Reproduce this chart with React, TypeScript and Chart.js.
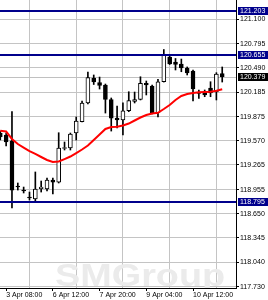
import React, { useEffect, useRef } from 'react';
import { Chart, registerables } from 'chart.js';

Chart.register(...registerables);

// H4 candles, bar index 0..38
const opens = [119.668, 119.643, 119.571, 119.0, 118.949, 118.861, 118.836, 118.968, 118.962, 119.076,
  119.05, 119.473, 119.479, 119.668, 119.811, 120.047, 120.362, 120.305, 120.274, 120.091,
  119.857, 119.832, 119.949, 120.066, 120.093, 120.295, 120.261, 119.924, 120.315, 120.627,
  120.564, 120.538, 120.488, 120.45, 120.179, 120.179, 120.236, 120.185, 120.419];
const highs = [119.693, 119.668, 119.937, 119.038, 118.987, 118.924, 119.177, 119.063, 119.101, 119.101,
  119.672, 119.555, 119.668, 119.87, 120.072, 120.438, 120.4, 120.374, 120.286, 120.11,
  120.009, 120.05, 120.189, 120.185, 120.378, 120.324, 120.274, 120.346, 120.721, 120.652,
  120.608, 120.601, 120.501, 120.463, 120.211, 120.211, 120.315, 120.429, 120.501];
const lows = [119.58, 119.504, 118.723, 118.949, 118.912, 118.823, 118.811, 118.924, 118.937, 118.899,
  119.038, 119.454, 119.454, 119.58, 119.807, 120.034, 120.28, 120.223, 119.92, 119.693,
  119.731, 119.643, 119.937, 120.047, 120.085, 120.148, 119.908, 119.87, 120.311, 120.532,
  120.463, 120.441, 120.4, 120.072, 120.106, 120.126, 120.126, 120.085, 120.311];
const closes = [119.618, 119.555, 118.949, 118.987, 118.937, 118.849, 118.962, 118.987, 119.076, 119.05,
  119.479, 119.485, 119.656, 119.82, 120.047, 120.368, 120.311, 120.267, 120.093, 119.857,
  119.832, 119.949, 120.076, 120.091, 120.295, 120.274, 119.917, 120.315, 120.652, 120.538,
  120.532, 120.488, 120.425, 120.223, 120.166, 120.148, 120.173, 120.412, 120.379];
const maValues = [119.697, 119.687, 119.593, 119.53, 119.485, 119.441, 119.404, 119.366, 119.328, 119.303,
  119.309, 119.34, 119.372, 119.416, 119.46, 119.511, 119.58, 119.649, 119.719, 119.744,
  119.748, 119.763, 119.788, 119.826, 119.864, 119.895, 119.914, 119.924, 119.971, 120.021,
  120.085, 120.135, 120.16, 120.173, 120.182, 120.185, 120.189, 120.202, 120.219];

const yTickValues = [117.73, 118.04, 118.345, 118.65, 118.955, 119.265, 119.57, 119.875, 120.185, 120.49, 120.795, 121.1];
const timeLabels = ['3 Apr 08:00', '6 Apr 12:00', '7 Apr 20:00', '9 Apr 04:00', '10 Apr 12:00'];
const timeLabelBars = [1, 9, 17, 25, 33];
const gridBars = [5, 13, 21, 29, 37];
const levelLines = [121.203, 120.655, 118.795];
const lastPrice = 120.379;
const watermark = 'SMGroup';

const FONT = '"Liberation Sans", Arial, sans-serif';
const GRID = '#c4c4c4';
const NAVY = '#00008c';

const darkCount = (ctx: CanvasRenderingContext2D, x: number, y: number, w: number, h: number) => {
  const d = ctx.getImageData(Math.round(x), Math.round(y), Math.round(w), Math.round(h)).data;
  let n = 0;
  for (let k = 0; k < d.length; k += 4) {
    if (d[k + 3] > 0 && d[k] < 140 && d[k + 1] < 140 && d[k + 2] < 140) n++;
  }
  return n;
};

const overlay = {
  id: 'overlay',
  beforeDatasetsDraw(chart: any) {
    const { ctx, chartArea: a, scales } = chart;
    ctx.save();
    ctx.beginPath();
    ctx.rect(a.left, a.top, a.right - a.left, a.bottom - a.top);
    ctx.clip();
    ctx.fillStyle = '#ebebeb';
    ctx.font = `bold 31px ${FONT}`;
    ctx.textBaseline = 'alphabetic';
    ctx.translate(a.left + 55, a.bottom - 2);
    ctx.scale(1.22, 1);
    ctx.fillText(watermark, 0, 0);
    ctx.restore();

    const y = Math.round(scales.y.getPixelForValue(lastPrice)) + 0.5;
    ctx.save();
    ctx.strokeStyle = '#c0c0c0';
    ctx.lineWidth = 1;
    ctx.beginPath();
    ctx.moveTo(a.left, y);
    ctx.lineTo(a.right, y);
    ctx.stroke();
    ctx.restore();
  },
  afterDatasetsDraw(chart: any) {
    const { ctx, chartArea: a, scales } = chart;
    ctx.save();
    ctx.strokeStyle = NAVY;
    ctx.lineWidth = 2;
    levelLines.forEach((v) => {
      const y = Math.round(scales.y.getPixelForValue(v));
      ctx.beginPath();
      ctx.moveTo(a.left, y);
      ctx.lineTo(a.right, y);
      ctx.stroke();
    });
    ctx.restore();
  },
  afterDraw(chart: any) {
    const { ctx, chartArea: a, scales } = chart;
    const left = a.right + 2;
    const box = (v: number, bg: string) => {
      const y = Math.round(scales.y.getPixelForValue(v));
      ctx.save();
      ctx.beginPath();
      ctx.rect(left, y - 4, chart.width - left, 8);
      ctx.fillStyle = bg;
      ctx.fill();
      ctx.fillStyle = '#ffffff';
      ctx.font = `7px ${FONT}`;
      ctx.textBaseline = 'middle';
      ctx.textAlign = 'left';
      ctx.fillText(v.toFixed(3), left + 2, y + 0.5);
      ctx.restore();
    };
    levelLines.forEach((v) => box(v, NAVY));
    box(lastPrice, '#000000');

    // make sure the top axis label (just under the top level box) stays visible
    const yTop = Math.round(scales.y.getPixelForValue(levelLines[0])) + 5;
    const rx = a.right + 4;
    const rw = chart.width - rx;
    if (darkCount(ctx, rx, yTop, rw, 9) < 15) {
      try {
        ctx.save();
        ctx.beginPath();
        ctx.rect(rx - 0.5, yTop - 0.5, rw + 1, 11);
        ctx.clip();
        scales.y.drawLabels(a);
        ctx.restore();
      } catch (e) {
        ctx.restore();
      }
      if (darkCount(ctx, rx, yTop, rw, 9) < 15) {
        const topTick = yTickValues[yTickValues.length - 1];
        ctx.save();
        ctx.fillStyle = '#000000';
        ctx.font = `7px ${FONT}`;
        ctx.textBaseline = 'middle';
        ctx.textAlign = 'left';
        ctx.fillText(topTick.toFixed(3), a.right + 4, scales.y.getPixelForValue(topTick));
        ctx.restore();
      }
    }
  },
};

export default function App() {
  const ref = useRef<HTMLCanvasElement>(null);
  useEffect(() => {
    const xTicks = [...timeLabelBars, ...gridBars].sort((p, q) => p - q);
    const isLabel = (v: any) => timeLabelBars.includes(v);
    const chart = new Chart(ref.current as HTMLCanvasElement, {
      type: 'bar',
      data: {
        datasets: [
          {
            type: 'line',
            label: 'MA',
            data: maValues.map((v, i) => ({ x: i, y: v })),
            borderColor: '#ff0000',
            borderWidth: 2,
            pointRadius: 0,
            tension: 0,
            order: 0,
          } as any,
          {
            type: 'bar',
            label: 'bodies',
            data: opens.map((o, i) => ({ x: i, y: [o, closes[i]] })),
            backgroundColor: opens.map((o, i) => (closes[i] >= o ? '#ffffff' : '#000000')),
            borderColor: '#000000',
            borderWidth: 1,
            borderSkipped: false,
            barThickness: 4,
            minBarLength: 1,
            grouped: false,
            order: 1,
          } as any,
          {
            type: 'bar',
            label: 'wicks',
            data: lows.map((l, i) => ({ x: i, y: [l, highs[i]] })),
            backgroundColor: '#000000',
            borderWidth: 0,
            barThickness: 1,
            grouped: false,
            order: 2,
          } as any,
        ],
      },
      options: {
        responsive: false,
        animation: false,
        devicePixelRatio: 1,
        layout: { padding: 0, autoPadding: false } as any,
        plugins: { legend: { display: false }, tooltip: { enabled: false } },
        scales: {
          x: {
            type: 'linear',
            position: 'bottom',
            min: -0.05,
            max: 40.36,
            offset: false,
            afterBuildTicks: (s: any) => {
              s.ticks = xTicks.map((v) => ({ value: v }));
            },
            afterFit: (s: any) => {
              s.height = 12;
              s.paddingLeft = 0;
              s.paddingRight = 0;
              s.paddingTop = 0;
              s.paddingBottom = 0;
            },
            ticks: {
              autoSkip: false,
              maxRotation: 0,
              minRotation: 0,
              align: 'start',
              padding: 0,
              color: '#000000',
              font: { family: FONT, size: 7 },
              callback: (v: any) => {
                const k = timeLabelBars.indexOf(v);
                return k >= 0 ? timeLabels[k] : '';
              },
            },
            grid: {
              offset: false,
              drawTicks: true,
              tickLength: 3,
              color: (c: any) => (c.tick && isLabel(c.tick.value) ? 'rgba(0,0,0,0)' : GRID),
              tickColor: (c: any) => (c.tick && isLabel(c.tick.value) ? '#000000' : 'rgba(0,0,0,0)'),
              borderDash: [2, 2],
              tickBorderDash: [],
              lineWidth: 1,
            } as any,
            border: { display: true, color: '#000000', width: 1 },
          } as any,
          y: {
            type: 'linear',
            position: 'right',
            min: 117.714,
            max: 121.3455,
            afterBuildTicks: (s: any) => {
              s.ticks = yTickValues.map((v) => ({ value: v }));
            },
            afterFit: (s: any) => {
              s.width = 32;
              s.paddingLeft = 0;
              s.paddingRight = 0;
              s.paddingTop = 0;
              s.paddingBottom = 0;
            },
            ticks: {
              autoSkip: false,
              padding: 1,
              color: '#000000',
              font: { family: FONT, size: 7 },
              callback: (v: any) => Number(v).toFixed(3),
            },
            grid: {
              drawTicks: true,
              tickLength: 3,
              color: GRID,
              tickColor: '#000000',
              borderDash: [2, 2],
              tickBorderDash: [],
              lineWidth: 1,
            } as any,
            border: { display: true, color: '#000000', width: 1 },
          } as any,
        },
      },
      plugins: [overlay],
    } as any);
    return () => chart.destroy();
  }, []);
  return (
    <div style={{ position: 'fixed', left: 0, top: 0, width: 268, height: 300, background: '#ffffff' }}>
      <canvas ref={ref} width={268} height={300} style={{ display: 'block', width: 268, height: 300 }} />
    </div>
  );
}
